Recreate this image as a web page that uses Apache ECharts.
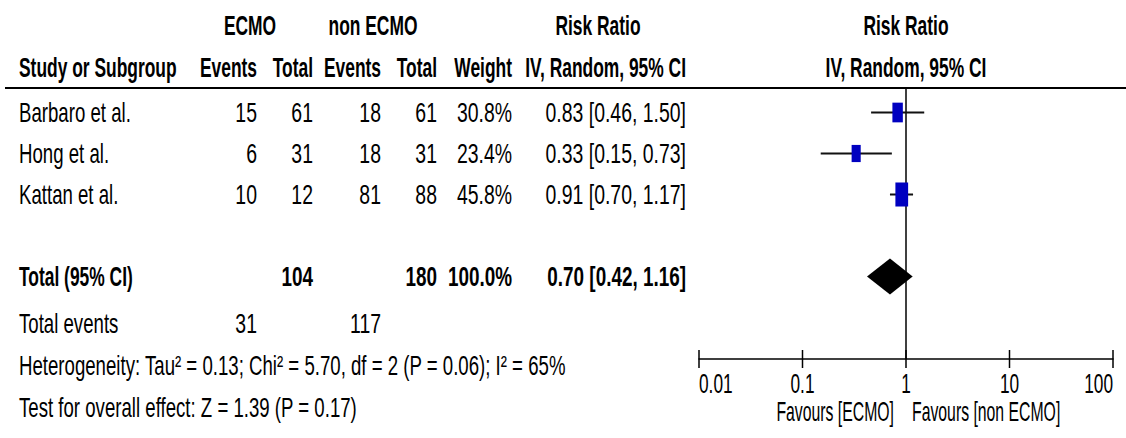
<!DOCTYPE html>
<html>
<head>
<meta charset="utf-8">
<script src="https://cdn.jsdelivr.net/npm/echarts@6/dist/echarts.min.js"></script>
<style>html,body{margin:0;padding:0;background:#fff;}#main{width:1126px;height:438px;}</style>
</head>
<body>
<div id="main"></div>
<script>
// ---- data ----
const studies = ['Barbaro et al.', 'Hong et al.', 'Kattan et al.'];
const ecmoEvents = [15, 6, 10];
const ecmoTotal = [61, 31, 12];
const nonEvents = [18, 18, 81];
const nonTotal = [61, 31, 88];
const weights = [30.8, 23.4, 45.8];
const rr = [0.83, 0.33, 0.91];
const ciLow = [0.46, 0.15, 0.70];
const ciHigh = [1.50, 0.73, 1.17];
const totalLabel = 'Total (95% CI)';
const totalEcmo = 104;
const totalNon = 180;
const totalWeight = 100.0;
const totalRR = [0.70, 0.42, 1.16];
const totalEvents = [31, 117];
const tickValues = [0.01, 0.1, 1, 10, 100];
const tickLabels = ['0.01', '0.1', '1', '10', '100'];
const heterogeneity = 'Heterogeneity: Tau\u00b2 = 0.13; Chi\u00b2 = 5.70, df = 2 (P = 0.06); I\u00b2 = 65%';
const overallTest = 'Test for overall effect: Z = 1.39 (P = 0.17)';
const favourLeft = 'Favours [ECMO]';
const favourRight = 'Favours [non ECMO]';

// ---- style ----
const FF = "'Liberation Sans', Arial, sans-serif";
const FS = 27;
const SC = {w: 0.69, n: 0.72, b: 0.645, bn: 0.70, ax: 0.64, fav: 0.585};
const COL = {study: 19, ecmoEv: 257, ecmoTot: 313, nonEv: 381, nonTot: 437, weight: 512, ci: 686};
const fmtCI = (a, b, c) => a.toFixed(2) + ' [' + b.toFixed(2) + ', ' + c.toFixed(2) + ']';

// kind: 'w' regular words, 'n' regular numbers, 'b' bold words, 'bn' bold numbers, 'ax' axis, 'fav' axis title
function txt(x, y, s, align, kind, size) {
  const bold = kind === 'b' || kind === 'bn';
  return {
    type: 'text', x: x, y: y, scaleX: SC[kind],
    style: {text: String(s), align: align || 'left', verticalAlign: 'middle',
      fontSize: size || FS, fontFamily: FF, fontWeight: bold ? 'bold' : 'normal', fill: '#000'}
  };
}

const chart = echarts.init(document.getElementById('main'), null, {renderer: 'svg'});

const studyData = studies.map((s, i) => [rr[i], i, ciLow[i], ciHigh[i], weights[i]]);
const totalRow = 4;

const option = {
  animation: false,
  backgroundColor: '#fff',
  grid: {left: 699, right: 13, top: 88, bottom: 79},
  xAxis: {
    type: 'log', logBase: 10, min: 0.01, max: 100,
    axisLine: {show: true, onZero: false, lineStyle: {color: '#000', width: 1.6}},
    axisTick: {show: false}, axisLabel: {show: false}, splitLine: {show: false}
  },
  yAxis: {type: 'value', inverse: true, min: -0.5976, max: 6.0122, show: false},
  graphic: [
    txt(250, 25, 'ECMO', 'center', 'b'),
    txt(373, 25, 'non ECMO', 'center', 'b'),
    txt(598, 25, 'Risk Ratio', 'center', 'b'),
    txt(906, 25, 'Risk Ratio', 'center', 'b'),
    txt(COL.study, 67, 'Study or Subgroup', 'left', 'b'),
    txt(COL.ecmoEv, 67, 'Events', 'right', 'b'),
    txt(COL.ecmoTot, 67, 'Total', 'right', 'b'),
    txt(COL.nonEv, 67, 'Events', 'right', 'b'),
    txt(COL.nonTot, 67, 'Total', 'right', 'b'),
    txt(COL.weight, 67, 'Weight', 'right', 'b'),
    txt(COL.ci, 67, 'IV, Random, 95% CI', 'right', 'b'),
    txt(906, 67, 'IV, Random, 95% CI', 'center', 'b'),
    {type: 'line', shape: {x1: 5, y1: 88, x2: 1126, y2: 88}, style: {stroke: '#000', lineWidth: 2}},
    txt(COL.study, 324, 'Total events', 'left', 'w'),
    txt(COL.ecmoEv, 324, totalEvents[0], 'right', 'n'),
    txt(COL.nonEv, 324, totalEvents[1], 'right', 'n'),
    txt(COL.study, 366, heterogeneity, 'left', 'w'),
    txt(COL.study, 408, overallTest, 'left', 'w')
  ],
  series: [
    { // reference line at RR = 1
      type: 'custom', z: 1, data: [[1, 0]], encode: {x: 0, y: 1},
      renderItem: function (params, api) {
        const cs = params.coordSys;
        const x = api.coord([api.value(0), 0])[0];
        return {type: 'line', shape: {x1: x, y1: cs.y, x2: x, y2: cs.y + cs.height},
          style: {stroke: '#000', lineWidth: 1.5}};
      }
    },
    { // study CIs and boxes
      type: 'custom', z: 3, data: studyData, encode: {x: 0, y: 1},
      renderItem: function (params, api) {
        const y = api.coord([1, api.value(1)])[1];
        const xc = api.coord([api.value(0), 0])[0];
        const xl = api.coord([api.value(2), 0])[0];
        const xh = api.coord([api.value(3), 0])[0];
        const h = 3.55 * Math.sqrt(api.value(4));
        const w = 0.53 * h;
        return {type: 'group', children: [
          {type: 'line', shape: {x1: xl, y1: y, x2: xh, y2: y}, style: {stroke: '#111', lineWidth: 2}},
          {type: 'rect', shape: {x: xc - w / 2, y: y - h / 2, width: w, height: h}, style: {fill: '#0000c0'}}
        ]};
      }
    },
    { // pooled diamond
      type: 'custom', z: 3, data: [[totalRR[0], totalRow, totalRR[1], totalRR[2]]], encode: {x: 0, y: 1},
      renderItem: function (params, api) {
        const y = api.coord([1, api.value(1)])[1];
        const xc = api.coord([api.value(0), 0])[0];
        const xl = api.coord([api.value(2), 0])[0];
        const xh = api.coord([api.value(3), 0])[0];
        const hh = 18;
        return {type: 'polygon', shape: {points: [[xl, y], [xc, y - hh], [xh, y], [xc, y + hh]]},
          style: {fill: '#000'}};
      }
    },
    { // table rows
      type: 'custom', z: 2, clip: false,
      data: studies.map((s, i) => [1, i, i]).concat([[1, totalRow, -1]]), encode: {x: 0, y: 1},
      renderItem: function (params, api) {
        const y = api.coord([1, api.value(1)])[1];
        const i = api.value(2);
        if (i < 0) {
          return {type: 'group', children: [
            txt(COL.study, y, totalLabel, 'left', 'b'),
            txt(COL.ecmoTot, y, totalEcmo, 'right', 'bn'),
            txt(COL.nonTot, y, totalNon, 'right', 'bn'),
            txt(COL.weight, y, totalWeight.toFixed(1) + '%', 'right', 'bn'),
            txt(COL.ci, y, fmtCI(totalRR[0], totalRR[1], totalRR[2]), 'right', 'bn')
          ]};
        }
        return {type: 'group', children: [
          txt(COL.study, y, studies[i], 'left', 'w'),
          txt(COL.ecmoEv, y, ecmoEvents[i], 'right', 'n'),
          txt(COL.ecmoTot, y, ecmoTotal[i], 'right', 'n'),
          txt(COL.nonEv, y, nonEvents[i], 'right', 'n'),
          txt(COL.nonTot, y, nonTotal[i], 'right', 'n'),
          txt(COL.weight, y, weights[i].toFixed(1) + '%', 'right', 'n'),
          txt(COL.ci, y, fmtCI(rr[i], ciLow[i], ciHigh[i]), 'right', 'n')
        ]};
      }
    },
    { // axis ticks and tick labels
      type: 'custom', z: 2, clip: false,
      data: tickValues.map((v, i) => [v, 0, i]), encode: {x: 0, y: 1},
      renderItem: function (params, api) {
        const cs = params.coordSys;
        const x = api.coord([api.value(0), 0])[0];
        const yb = cs.y + cs.height;
        const i = api.value(2);
        const align = i === 0 ? 'left' : (i === tickValues.length - 1 ? 'right' : 'center');
        return {type: 'group', children: [
          {type: 'line', shape: {x1: x, y1: yb - 9, x2: x, y2: yb + 9}, style: {stroke: '#000', lineWidth: 1.5}},
          txt(x, yb + 24, tickLabels[i], align, 'ax')
        ]};
      }
    },
    { // favours labels around RR = 1
      type: 'custom', z: 2, clip: false, data: [[1, 0]], encode: {x: 0, y: 1},
      renderItem: function (params, api) {
        const cs = params.coordSys;
        const x = api.coord([api.value(0), 0])[0];
        const y = cs.y + cs.height + 53;
        return {type: 'group', children: [
          txt(x - 12, y, favourLeft, 'right', 'fav'),
          txt(x + 6, y, favourRight, 'left', 'fav')
        ]};
      }
    }
  ]
};
chart.setOption(option);
</script>
</body>
</html>
